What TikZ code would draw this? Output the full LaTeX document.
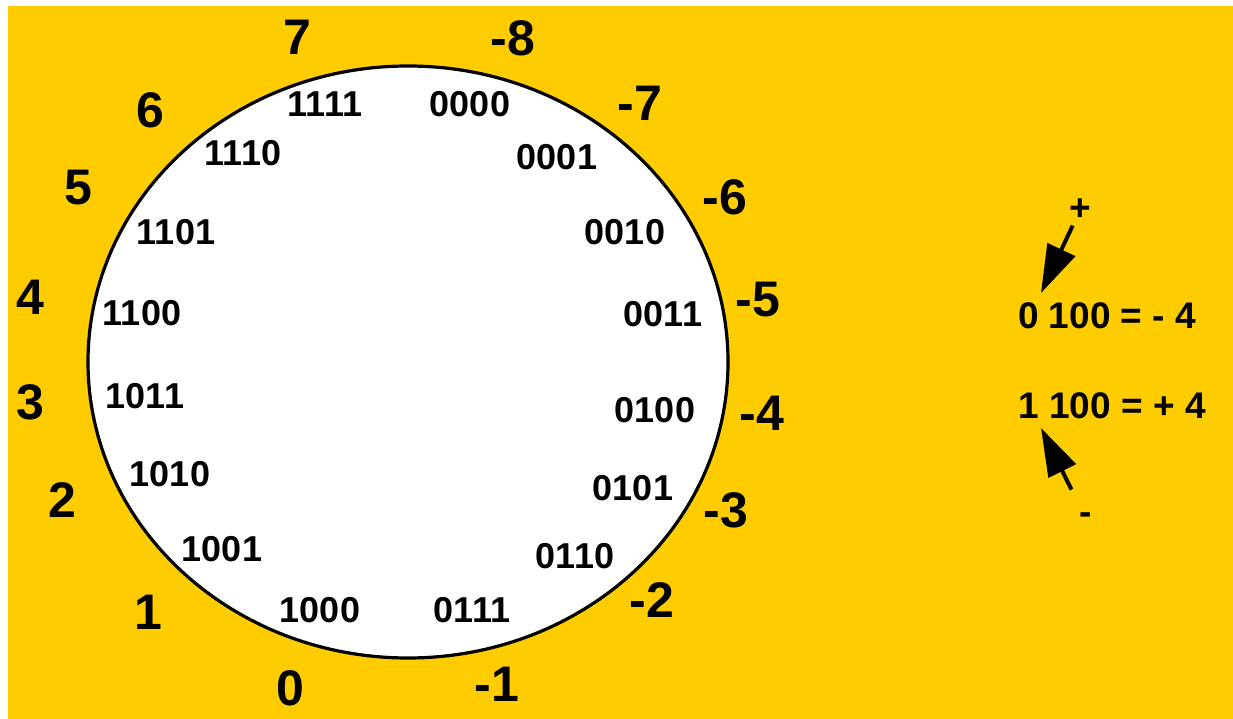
\documentclass[tikz,border=0pt]{standalone}
\usepackage{fontspec}
\setmainfont{Liberation Sans}
\usepackage{xcolor}
\usetikzlibrary{arrows.meta}
\definecolor{wheelbg}{HTML}{FFCC00}

\begin{document}
\begin{tikzpicture}[x=1pt,y=-1pt,
  outer/.style={font=\fontsize{50}{56}\selectfont\bfseries,inner sep=0pt},
  inner/.style={font=\fontsize{36}{42}\selectfont\bfseries,inner sep=0pt},
  note/.style={font=\fontsize{37}{43}\selectfont\bfseries,inner sep=0pt},
  pointer/.style={line width=4pt,-{Triangle[length=48pt,width=30pt]}}]
  \useasboundingbox (0,0) rectangle (1233,719);
  \fill[wheelbg] (8,6) rectangle (1233,719);

  %% ── the wheel ──
  \draw[line width=3.2pt,fill=white] (408,362) ellipse [x radius=320,y radius=296];

  %% ── bit patterns inside ──
  \node[inner] (b0000) at (470,104) {0000};
  \node[inner] (b0001) at (557,157) {0001};
  \node[inner] (b0010) at (625,232) {0010};
  \node[inner] (b0011) at (663,314) {0011};
  \node[inner] (b0100) at (655,410) {0100};
  \node[inner] (b0101) at (633,488) {0101};
  \node[inner] (b0110) at (575,556) {0110};
  \node[inner] (b0111) at (472,610) {0111};
  \node[inner] (b1000) at (320,610) {1000};
  \node[inner] (b1001) at (222,549) {1001};
  \node[inner] (b1010) at (170,474) {1010};
  \node[inner] (b1011) at (145,396) {1011};
  \node[inner] (b1100) at (142,313) {1100};
  \node[inner] (b1101) at (176,232) {1101};
  \node[inner] (b1110) at (243,153) {1110};
  \node[inner] (b1111) at (325,104) {1111};

  %% ── values outside ──
  \node[outer] (vm8) at (513,38)  {-8};
  \node[outer] (vm7) at (640,103) {-7};
  \node[outer] (vm6) at (725,197) {-6};
  \node[outer] (vm5) at (758,300) {-5};
  \node[outer] (vm4) at (762,413) {-4};
  \node[outer] (vm3) at (726,510) {-3};
  \node[outer] (vm2) at (652,600) {-2};
  \node[outer] (vm1) at (497,684) {-1};
  \node[outer] (v0)  at (290,688) {0};
  \node[outer] (v1)  at (148,612) {1};
  \node[outer] (v2)  at (62,500)  {2};
  \node[outer] (v3)  at (30,402)  {3};
  \node[outer] (v4)  at (30,297)  {4};
  \node[outer] (v5)  at (78,188)  {5};
  \node[outer] (v6)  at (150,110) {6};
  \node[outer] (v7)  at (297,37)  {7};

  %% ── sign bit notes ──
  \node[note] (plus)  at (1080,210) {+};
  \node[note] (eqneg) at (1107,316) {0 100 = - 4};
  \node[note] (eqpos) at (1112,406) {1 100 = + 4};
  \node[note] (minus) at (1086,519) {-};
  \coordinate (tipneg) at (1041,293);
  \coordinate (tippos) at (1041,428);
  \draw[pointer,shorten <=5pt] (plus) -- (tipneg);
  \draw[pointer,shorten <=26pt] (minus) -- (tippos);
\end{tikzpicture}
\end{document}
